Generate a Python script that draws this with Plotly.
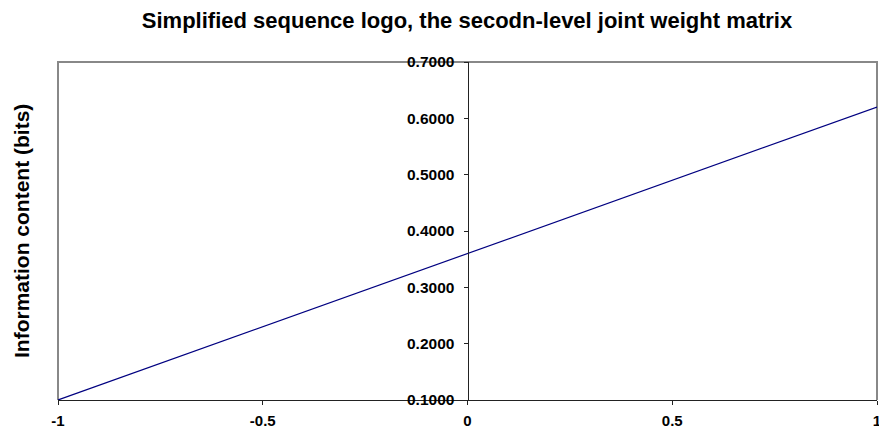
import plotly.graph_objects as go

x_vals = [-1, 0, 1]
y_vals = [0.10, 0.36, 0.62]
x_ticks = [-1, -0.5, 0, 0.5, 1]
x_tick_labels = ["-1", "-0.5", "0", "0.5", "1"]
y_ticks = [0.1, 0.2, 0.3, 0.4, 0.5, 0.6, 0.7]
y_tick_labels = ["0.1000", "0.2000", "0.3000", "0.4000", "0.5000", "0.6000", "0.7000"]

L, R, T, B = 58, 2, 62, 28
W, H = 879, 428
pw = W - L - R

fig = go.Figure()
fig.add_trace(go.Scatter(x=x_vals, y=y_vals, mode="lines",
                         line=dict(color="#000080", width=1.2), showlegend=False))

font_b = "Liberation Sans, Arial, sans-serif"
fig.update_layout(
    width=W, height=H,
    margin=dict(l=L, r=R, t=T, b=B, autoexpand=False),
    paper_bgcolor="white", plot_bgcolor="white",
    title=dict(text="<b>Simplified sequence logo, the secodn-level joint weight matrix</b>",
               x=467 / W, xanchor="center", y=1 - 20 / H, yanchor="middle",
               font=dict(family=font_b, size=22, color="black")),
    xaxis=dict(range=[-1, 1], tickvals=x_ticks, ticktext=["<b>%s</b>" % t for t in x_tick_labels],
               showline=True, linecolor="#222", linewidth=1, ticks="outside", ticklen=4,
               tickcolor="#222", showgrid=False, zeroline=False, automargin=False,
               ticklabeloverflow="allow", ticklabelstandoff=3,
               tickfont=dict(family=font_b, size=15, color="black")),
    yaxis=dict(range=[0.1, 0.7], tickvals=y_ticks, ticktext=["<b>%s</b>" % t for t in y_tick_labels],
               anchor="free", position=0.5, showline=True, linecolor="#222", linewidth=1,
               ticks="outside", ticklen=4, tickcolor="#222", showgrid=False, zeroline=False,
               automargin=False, ticklabelstandoff=6, ticklabeloverflow="allow",
               tickfont=dict(family=font_b, size=15.5, color="black")),
    shapes=[dict(type="path", xref="paper", yref="paper",
                 path="M 0 0 L 0 1 L 1 1 L 1 0", line=dict(color="#888", width=2), layer="below")],
    annotations=[dict(text="<b>Information content (bits)</b>", xref="paper", yref="paper",
                      x=(21 - L) / pw, y=0.5, xanchor="center", yanchor="middle",
                      textangle=-90, showarrow=False,
                      font=dict(family=font_b, size=21, color="black"))],
)
fig.write_html("out.html", config={"displayModeBar": False},
               post_script="document.body.style.margin='0';")
